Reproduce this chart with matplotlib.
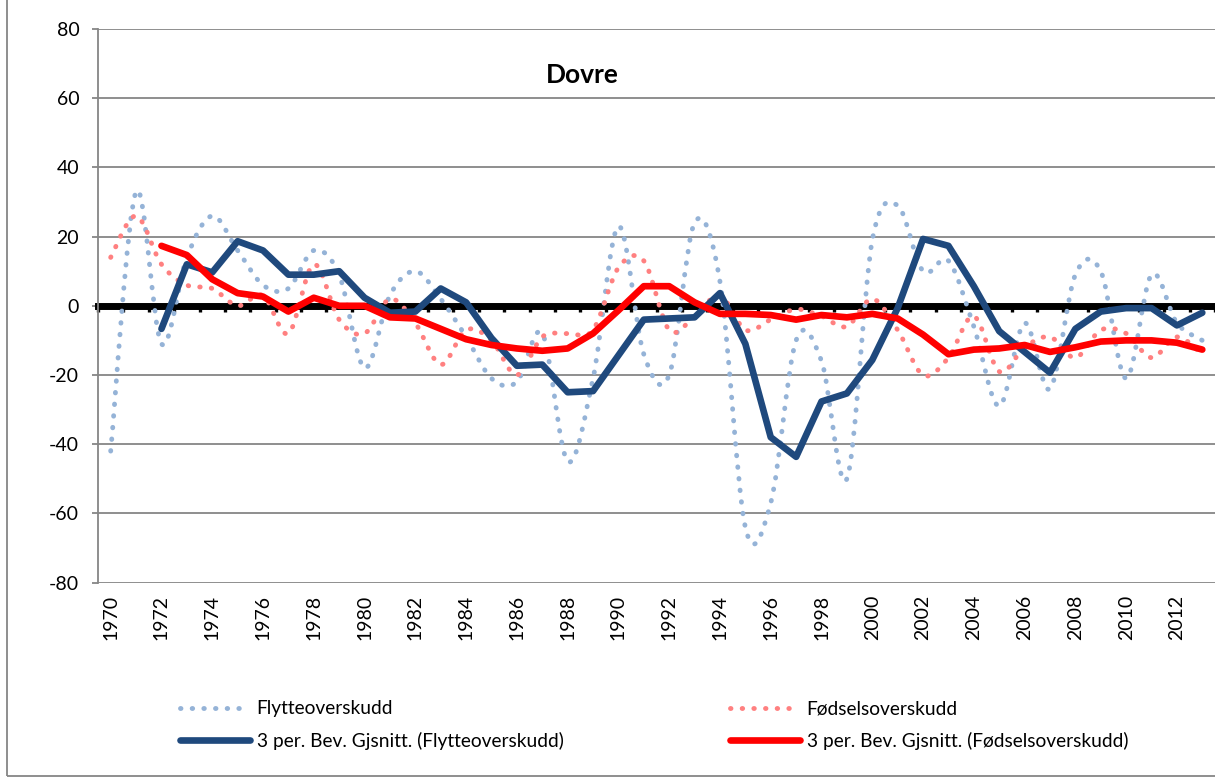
import numpy as np
import pandas as pd
import matplotlib
matplotlib.use("Agg")
import matplotlib.pyplot as plt
from matplotlib.path import Path
from matplotlib.patches import PathPatch, Rectangle
from matplotlib.lines import Line2D

plt.rcParams['font.family'] = ['Lato', 'DejaVu Sans']
plt.rcParams['axes.unicode_minus'] = False

# Dovre: yearly net migration and natural growth
years = list(range(1970, 2014))
flytte = [-42, 33, -11, 14, 26, 16, 6, 5, 16, 9,
          -18, 3, 10, 2, -9, -21, -22, -8, -45, -21,
          23, -14, -20, 24, 7, -64, -57, -10, -16, -50,
          19, 29, 10, 13, -6, -29, -5, -24, 9, 10,
          -21, 9, -5, -10]
fodsel = [14, 26, 12, 6, 5, 0, 3, -8, 12, -4,
          -8, 2, -5, -17, -7, -10, -20, -9, -8, -7,
          11, 13, -7, -3, 3, -7, -4, -1, -3, -6,
          2, -7, -20, -15, -3, -19, -12, -9, -15, -7,
          -8, -15, -9, -14]

labels = ["Flytteoverskudd", "Fødselsoverskudd",
          "3 per. Bev. Gjsnitt. (Flytteoverskudd)",
          "3 per. Bev. Gjsnitt. (Fødselsoverskudd)"]

c_fl, c_fo = "#95B3D7", "#FF8080"
c_fl_ma, c_fo_ma = "#1F497D", "#FF0000"
grid_c = "#868686"

df = pd.DataFrame({"flytte": flytte, "fodsel": fodsel}, index=years)
ma = df.rolling(3).mean()
xs = np.arange(len(years))


def smooth_path(x, y, k=1 / 6):
    # spline through every point, bezier handles from neighbouring points
    pts = np.column_stack([np.asarray(x, float), np.asarray(y, float)])
    prev = np.vstack([pts[:1], pts[:-1]])
    nxt = np.vstack([pts[1:], pts[-1:]])
    tang = (nxt - prev) * k
    verts = [pts[0]]
    codes = [Path.MOVETO]
    for i in range(len(pts) - 1):
        verts += [pts[i] + tang[i], pts[i + 1] - tang[i + 1], pts[i + 1]]
        codes += [Path.CURVE4] * 3
    return Path(verts, codes)


dot_lw = 3.5
dot_ls = (0, (0.1, 2.3))
ma_lw = 4.8

fig = plt.figure(figsize=(12.15, 7.78), dpi=100)
ax = fig.add_axes([98 / 1215, 195.5 / 778, 1117 / 1215, 553.4 / 778])

for col, c in (("flytte", c_fl), ("fodsel", c_fo)):
    p = PathPatch(smooth_path(xs, df[col].values), fill=False, edgecolor=c,
                  lw=dot_lw, linestyle=dot_ls, capstyle="round", zorder=2)
    ax.add_patch(p)

for col, c in (("flytte", c_fl_ma), ("fodsel", c_fo_ma)):
    ax.plot(xs[2:], ma[col].values[2:], color=c, lw=ma_lw,
            solid_capstyle="round", solid_joinstyle="round", zorder=3)

ax.set_xlim(-0.5, len(years) - 0.5)
ax.set_ylim(-80, 80)
ax.set_yticks(range(-80, 81, 20))
ax.yaxis.grid(True, color=grid_c, lw=1.3)
ax.set_axisbelow(True)
for s in ("top", "right", "bottom"):
    ax.spines[s].set_visible(False)
ax.spines["left"].set_color(grid_c)
ax.spines["left"].set_linewidth(1.3)
ax.tick_params(axis="y", direction="out", length=4.5, width=1.3,
               color=grid_c, labelsize=14, pad=9)
ax.set_xticks(xs[::2])
ax.set_xticklabels([str(y) for y in years[::2]], rotation=90)
ax.tick_params(axis="x", length=0, labelsize=14, pad=9)

# horizontal axis crossing at zero, ticks between categories
sec = ax.secondary_xaxis(0.5)
sec.set_zorder(1)
sec.set_xticks(np.arange(-0.5, len(years), 1.0))
sec.tick_params(direction="in", length=4, width=2.4, color="black",
                labeltop=False, labelbottom=False, top=True, bottom=False)
for s in ("top", "bottom"):
    sec.spines[s].set_color("black")
    sec.spines[s].set_linewidth(5)

ax.text(0.434, 0.917, "Dovre", transform=ax.transAxes, ha="center",
        va="center", fontsize=19, fontweight="bold")

h_fl = Line2D([], [], color=c_fl, lw=dot_lw, ls=dot_ls, dash_capstyle="round")
h_fo = Line2D([], [], color=c_fo, lw=dot_lw, ls=dot_ls, dash_capstyle="round")
h_fl_ma = Line2D([], [], color=c_fl_ma, lw=ma_lw, solid_capstyle="round")
h_fo_ma = Line2D([], [], color=c_fo_ma, lw=ma_lw, solid_capstyle="round")

leg_kw = dict(loc="center left", frameon=False, fontsize=13.8,
              handlelength=3.65, handletextpad=0.35, labelspacing=0.75,
              borderpad=0, borderaxespad=0)
fig.legend([h_fl, h_fl_ma], [labels[0], labels[2]],
           bbox_to_anchor=(180 / 1215, 1 - 725 / 778), **leg_kw)
fig.legend([h_fo, h_fo_ma], [labels[1], labels[3]],
           bbox_to_anchor=(730 / 1215, 1 - 725 / 778), **leg_kw)

# chart area border
fig.add_artist(Rectangle((7 / 1215, 2 / 778), 2, 2, transform=fig.transFigure,
                         fill=False, ec=grid_c, lw=1.3))

fig.savefig("out.png", dpi=100)
